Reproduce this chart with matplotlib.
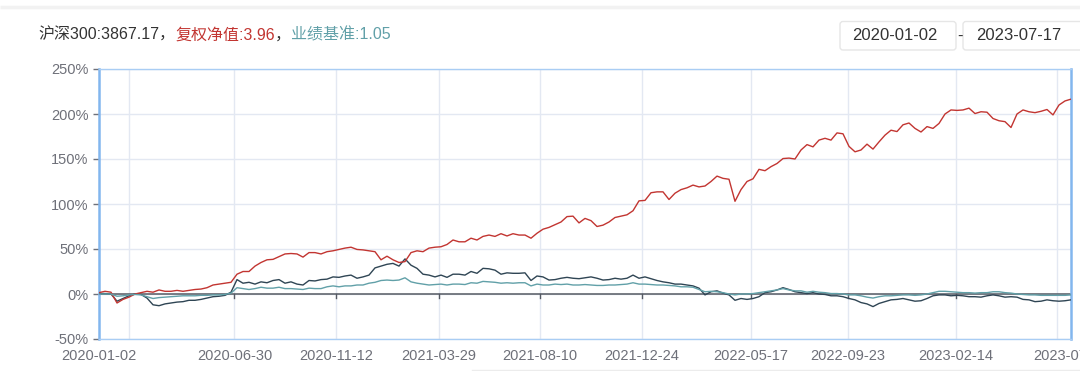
import numpy as np
import pandas as pd
import matplotlib
matplotlib.use("Agg")
import matplotlib.pyplot as plt
import matplotlib.dates as mdates
from matplotlib.patches import FancyBboxPatch
from matplotlib.ticker import FixedLocator, FuncFormatter

plt.rcParams['font.family'] = ['Liberation Sans', 'Noto Sans CJK SC', 'DejaVu Sans']

# ---------------- data (cumulative return, %) ----------------
start_date = '2020-01-02'
end_date = '2023-07-17'

fund_ret = [1.5, 3, 2, -10, -6, -3.5, 0, 1.5, 3, 2, 4.5, 3, 3, 4, 3, 4, 5, 5.5, 7, 10, 11, 12, 13, 22,
            25, 25, 31, 35, 38, 38.5, 41.5, 44.5, 45, 44.5, 41, 46, 46, 44.5, 47, 48, 49.5, 51, 52, 49.5, 49, 48,
            47, 38, 42, 38, 35, 36, 46, 48, 47, 51, 52, 52.5, 55, 60, 58, 58, 62, 60, 64, 65.5, 64, 67, 64.5, 67,
            65.5, 65.5, 62, 67.5, 72, 74, 77, 80, 86, 86.5, 79, 84, 81.5, 75, 76.5, 80, 85, 86.5, 88, 92.5, 103.5, 104, 112.5,
            113.5, 113.5, 105, 112, 116, 118, 121, 119, 120, 125, 131, 128.5, 127.5, 103, 116, 125, 128, 138.5, 137, 141.5, 145, 150.5, 151,
            150, 160, 166, 163.5, 171, 173, 171, 179, 178, 164, 158, 160, 166.5, 161, 169, 176.5, 182, 180.5, 188, 190, 184, 180, 186, 184,
            189.5, 200, 204.5, 204, 204.5, 206.5, 200.5, 202.5, 202, 195, 192.5, 191.5, 185, 200, 204.5, 202.5, 201.5, 203, 205, 199, 210, 214.5, 216.5]

hs300_ret = [0.5, 0.5, 0, -8, -5, -2, 0, -0.5, -4.5, -12, -13, -11, -10, -9, -8.5, -7, -7, -6, -4.5, -3, -2.5, -1.5, 2, 16,
             12, 13, 11, 13.5, 12.5, 15, 16, 12, 13.5, 11, 10, 15, 14.5, 16, 16.5, 19, 18.5, 20, 21, 17.5, 19, 21,
             29, 31, 33, 34, 31, 39, 32, 28.5, 22, 21, 19, 21, 18.5, 22, 22, 21, 25, 23, 28.5, 28, 26.5, 22, 23.5, 23,
             23, 23.5, 15, 20, 19, 15.5, 16, 17.5, 18.5, 17.5, 17, 18, 19, 17.5, 15.5, 16, 17.5, 16.5, 17.5, 21, 17.5, 19, 17,
             15, 13.5, 12.5, 11, 11, 10, 9, 6.5, -1, 2.5, 3.5, 1, -1, -7, -5, -6, -5, -3, 1.5, 2.5, 4.5, 7, 5,
             2.5, 1.5, 0.5, 1.5, 0, -0.5, -2, -2, -3, -5, -6.5, -9.5, -11, -14, -10.5, -8.5, -6.5, -6, -5, -6.5, -8, -7.5, -5, -2,
             -1, -1, -2, -1.5, -2, -3, -3, -3.5, -2, -1, -2, -3.5, -3, -3.5, -6, -6.5, -8.5, -8, -6.5, -7.5, -8, -7.5, -6.5]

bench_ret = [0, 0, 0, -2.5, -2, -1, -0.5, -1, -3, -5, -4, -3.5, -3, -2.5, -2, -2, -2, -1.5, -1.5, -1, -1, -0.5, 1, 7,
             6, 5, 6, 7.5, 6.5, 6.5, 7.5, 6, 6, 5.5, 5, 6.5, 6, 6, 8, 9, 8, 9, 9, 10, 10, 12,
             13, 15, 15.5, 15, 15.5, 18, 13.5, 12, 11, 10, 10.5, 11, 10, 11, 11, 10.5, 12.5, 12, 14, 13.5, 13, 12, 12.5, 12,
             12.5, 12.5, 9, 11, 10, 10, 11, 10.5, 11, 10, 10, 10.5, 10, 9.5, 9.5, 10, 10, 10.5, 11, 12.5, 11, 11, 10.5,
             10, 10, 9.5, 9, 8, 8, 7.5, 5, 2.5, 3, 2.5, 1.5, 0, -1, 0, 0, 0.5, 1.5, 2.5, 3.5, 4.5, 6, 4.5,
             3.5, 3.5, 2, 3, 2, 1.5, 0.5, 0.5, 0, -1, -1, -2, -3.5, -4.5, -3, -2, -2, -1.5, -1, -1, -1.5, -1, 0, 1.5,
             3, 3, 2.5, 2, 1.5, 1.5, 1, 1.5, 1.5, 2.5, 2.5, 1.5, 1, 0, -0.5, -1, -1, -1.5, -1.5, -1.5, -1.5, -1.5, -1]

label_dates = ['2020-01-02', '2020-06-30', '2020-11-12', '2021-03-29', '2021-08-10',
               '2021-12-24', '2022-05-17', '2022-09-23', '2023-02-14', '2023-07-17']
grid_dates = ['2020-02-11', '2020-06-30', '2020-11-12', '2021-03-29', '2021-08-10',
              '2021-12-24', '2022-05-17', '2022-09-23', '2023-02-14', '2023-06-29']
y_ticks = [-50, 0, 50, 100, 150, 200, 250]

title_parts = [('沪深300:3867.17，', '#333333'), ('复权净值:3.96', '#c23531'),
               ('，', '#333333'), ('业绩基准:1.05', '#61a0a8')]
range_start = '2020-01-02'
range_end = '2023-07-17'

# ---------------- figure ----------------
W, H = 1080, 371
fig = plt.figure(figsize=(W / 100, H / 100), dpi=100)
fig.patch.set_facecolor('white')

# background overlay in pixel coordinates
bg = fig.add_axes([0, 0, 1, 1])
bg.set_xlim(0, W)
bg.set_ylim(H, 0)
bg.axis('off')
bg.plot([0, W], [7, 7], color='#f2f2f2', lw=2.5, solid_capstyle='butt')
bg.plot([472, W], [370, 370], color='#ececec', lw=1.0)
bg.add_patch(FancyBboxPatch((840, 21.5), 116, 28.5, boxstyle='round,pad=0,rounding_size=3',
                            fc='white', ec='#e6e6e6', lw=1.0))
bg.add_patch(FancyBboxPatch((963, 21.5), 130, 28.5, boxstyle='round,pad=0,rounding_size=3',
                            fc='white', ec='#e6e6e6', lw=1.0))
bg.text(852, 36, range_start, color='#333333', fontsize=12, va='center', ha='left')
bg.text(960, 36, '-', color='#333333', fontsize=12, va='center', ha='center')
bg.text(976, 36, range_end, color='#333333', fontsize=12, va='center', ha='left')

# main axes
L, R, T, B = 99, 1071, 69, 339
ax = fig.add_axes([L / W, 1 - B / H, (R - L) / W, (B - T) / H])
ax.set_facecolor('white')

n = len(fund_ret)
t0 = pd.Timestamp(start_date).value
t1 = pd.Timestamp(end_date).value
dates = pd.to_datetime(np.linspace(t0, t1, n))

# vertical grid lines
for d in grid_dates:
    ax.axvline(pd.Timestamp(d), color='#e3e8f2', lw=1.0, zorder=0.5)

ax.plot(dates, hs300_ret, color='#2f4554', lw=1.0, zorder=3)
ax.plot(dates, fund_ret, color='#c23531', lw=1.0, zorder=4)
ax.plot(dates, bench_ret, color='#61a0a8', lw=1.0, zorder=5)
ax.axhline(0, color='#555a63', lw=1.1, zorder=2.5)

ax.set_xlim(pd.Timestamp(start_date), pd.Timestamp(end_date))
ax.set_ylim(-50, 250)

# y axis
ax.set_yticks(y_ticks)
ax.yaxis.set_major_formatter(FuncFormatter(lambda v, p: f'{int(v)}%'))
ax.tick_params(axis='y', length=4.5, width=1, color='#6e7079', labelcolor='#6e7079',
               labelsize=10.5, pad=3)
ax.yaxis.grid(True, color='#e3e8f2', lw=1.0, zorder=0)

# x axis
ax.xaxis.set_major_locator(FixedLocator([mdates.date2num(pd.Timestamp(d)) for d in label_dates]))
ax.set_xticklabels(label_dates)
ax.tick_params(axis='x', which='major', length=0, labelcolor='#6e7079', labelsize=10.5, pad=7)
ax.xaxis.grid(False)
ax.set_axisbelow(True)

# small tick marks under the zero line
for d in label_dates[1:-1]:
    xd = mdates.date2num(pd.Timestamp(d))
    ax.plot([xd, xd], [0, -4.5], color='#555a63', lw=1.0, zorder=2.5)

for side in ['top', 'bottom']:
    ax.spines[side].set_color('#a9cdf4')
    ax.spines[side].set_linewidth(1.0)
for side in ['left', 'right']:
    ax.spines[side].set_color('#82b6ee')
    ax.spines[side].set_linewidth(1.8)

# title made of coloured pieces
fig.canvas.draw()
renderer = fig.canvas.get_renderer()
xpos = 38
for s, c in title_parts:
    t = bg.text(xpos, 35, s, color=c, fontsize=11.5, va='center', ha='left')
    bb = t.get_window_extent(renderer)
    xpos += bb.width

fig.savefig('out.png', dpi=100, facecolor='white')
